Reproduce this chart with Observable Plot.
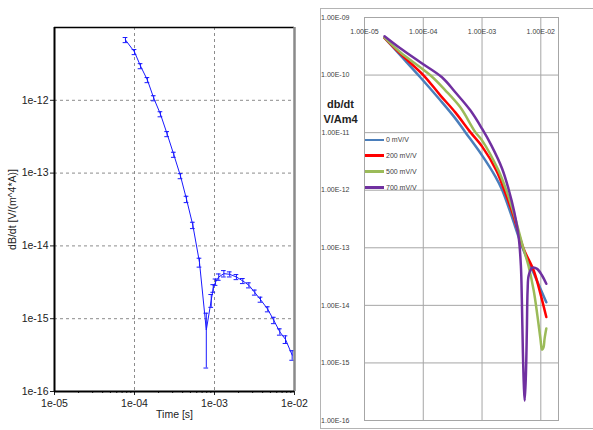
<!DOCTYPE html>
<html><head><meta charset="utf-8">
<script src="https://cdn.jsdelivr.net/npm/d3@7"></script>
<script src="https://cdn.jsdelivr.net/npm/@observablehq/plot@0.6"></script>
<style>
html,body{margin:0;padding:0;background:#fff;}
body{width:593px;height:430px;overflow:hidden;position:relative;font-family:"Liberation Sans",Arial,sans-serif;}
#left{position:absolute;left:0;top:0;}
#rightBox{position:absolute;left:320px;top:8px;width:290px;height:421px;border:1px solid #b4b4b4;box-sizing:border-box;}
#right{position:absolute;left:320px;top:0;}
#legend{position:absolute;left:365px;top:132px;font-size:7px;color:#404040;}
#legend .row{display:flex;align-items:center;height:15.8px;}
#legend .sw{width:19px;height:2.5px;margin-right:2px;}
svg{overflow:visible;}
</style></head><body>
<div id="left"></div><div id="rightBox"></div><div id="right"></div><div id="legend"></div>
<script>
// ---------- Left chart data ----------
const leftTime = [7.72e-5, 1.00e-4, 1.19e-4, 1.45e-4, 1.74e-4, 2.11e-4, 2.56e-4, 3.10e-4, 3.76e-4, 4.47e-4,
  5.36e-4, 6.49e-4, 7.9e-4, 9.1e-4, 9.64e-4, 1.03e-3, 1.13e-3, 1.31e-3, 1.55e-3, 1.88e-3,
  2.26e-3, 2.69e-3, 3.19e-3, 3.76e-3, 4.63e-3, 5.51e-3, 6.55e-3, 7.72e-3, 9.35e-3];
const leftDbdt = [6.74e-12, 4.61e-12, 2.95e-12, 1.90e-12, 1.07e-12, 6.45e-13, 3.44e-13, 1.79e-13, 9.1e-14, 4.37e-14,
  1.92e-14, 5.94e-15, 7.0e-16, 1.79e-15, 2.62e-15, 3.19e-15, 3.74e-15, 4.16e-15, 4.07e-15, 3.74e-15,
  3.30e-15, 2.88e-15, 2.29e-15, 1.83e-15, 1.35e-15, 9.5e-16, 6.6e-16, 5.19e-16, 3.16e-16];
const leftErr = [0.08, 0.08, 0.08, 0.08, 0.08, 0.08, 0.08, 0.08, 0.08, 0.1,
  0.1, 0.14, 0.7, 0.2, 0.12, 0.1, 0.1, 0.1, 0.08, 0.08,
  0.08, 0.08, 0.08, 0.08, 0.08, 0.1, 0.1, 0.12, 0.15];
const leftXTicks = [1e-5, 1e-4, 1e-3, 1e-2];
const leftXTickLabels = ["1e-05", "1e-04", "1e-03", "1e-02"];
const leftYTicks = [1e-16, 1e-15, 1e-14, 1e-13, 1e-12];
const leftYTickLabels = ["1e-16", "1e-15", "1e-14", "1e-13", "1e-12"];
const leftXLabel = "Time [s]";
const leftYLabel = "dB/dt [V/(m^4*A)]";

// ---------- Right chart data ----------
const rightSeries = ["0 mV/V", "200 mV/V", "500 mV/V", "700 mV/V"];
const rightColors = ["#4a7ebb", "#ff0000", "#9bbb59", "#7030a0"];
const t0 = [2.19e-5, 4.06e-5, 8.89e-5, 1.95e-4, 3.51e-4, 5.19e-4, 1.00e-3, 1.68e-3, 2.22e-3, 3.16e-3, 4.86e-3, 7.48e-3, 1.24e-2];
const v0 = [4.42e-10, 2.21e-10, 9.16e-11, 3.65e-11, 1.77e-11, 1.02e-11, 4.03e-12, 1.74e-12, 9.92e-13, 3.65e-13, 1.01e-13, 3.72e-14, 1.13e-14];
const t1 = [2.19e-5, 4.06e-5, 1.01e-4, 1.95e-4, 3.51e-4, 6.32e-4, 1.00e-3, 1.75e-3, 2.40e-3, 3.41e-3, 5.05e-3, 7.57e-3, 9.84e-3, 1.24e-2];
const v1 = [4.42e-10, 2.35e-10, 9.92e-11, 4.45e-11, 2.25e-11, 1.02e-11, 5.78e-12, 2.21e-12, 9.92e-13, 3.65e-13, 9.84e-14, 4.03e-14, 1.60e-14, 6.26e-15];
const t2 = [2.19e-5, 4.06e-5, 1.32e-4, 2.37e-4, 4.27e-4, 7.69e-4, 1.00e-3, 1.90e-3, 2.59e-3, 3.55e-3, 5.05e-3, 6.15e-3, 7.57e-3, 8.75e-3, 9.84e-3, 1.05e-2, 1.11e-2, 1.16e-2, 1.24e-2];
const v2 = [4.46e-10, 2.49e-10, 9.92e-11, 5.44e-11, 2.75e-11, 1.02e-11, 7.35e-12, 2.21e-12, 9.92e-13, 3.65e-13, 9.84e-14, 4.92e-14, 1.81e-14, 6.65e-15, 2.65e-15, 1.70e-15, 1.85e-15, 2.65e-15, 3.95e-15];
const t3 = [2.19e-5, 4.06e-5, 8.89e-5, 2.08e-4, 3.51e-4, 6.32e-4, 1.00e-3, 1.44e-3, 2.19e-3, 2.81e-3, 3.55e-3, 4.20e-3, 4.58e-3, 4.76e-3, 4.95e-3, 5.15e-3, 5.32e-3, 5.57e-3, 5.79e-3, 5.96e-3, 6.22e-3, 7.11e-3, 8.65e-3, 1.05e-2, 1.24e-2];
const v3 = [4.73e-10, 2.92e-10, 1.67e-10, 9.16e-11, 5.02e-11, 2.44e-11, 1.17e-11, 6.01e-12, 2.39e-12, 1.07e-12, 4.11e-13, 1.53e-13, 4.92e-14, 1.21e-14, 1.64e-15, 4.03e-16, 2.21e-16, 6.01e-16, 3.65e-15, 1.81e-14, 3.30e-14, 4.49e-14, 4.31e-14, 3.30e-14, 2.37e-14];
const rightXTicks = [1e-5, 1e-4, 1e-3, 1e-2];
const rightXTickLabels = ["1.00E-05", "1.00E-04", "1.00E-03", "1.00E-02"];
const rightYTicks = [1e-16, 1e-15, 1e-14, 1e-13, 1e-12, 1e-11, 1e-10, 1e-9];
const rightYTickLabels = ["1.00E-16", "1.00E-15", "1.00E-14", "1.00E-13", "1.00E-12", "1.00E-11", "1.00E-10", "1.00E-09"];
const rightYLabel = "db/dt\nV/Am4";

// ---------- Left chart ----------
const leftData = leftTime.map((t, i) => ({t, v: leftDbdt[i], lo: leftDbdt[i] * (1 - leftErr[i]), hi: leftDbdt[i] * (1 + leftErr[i])}));
const lxLab = new Map(leftXTicks.map((d, i) => [d, leftXTickLabels[i]]));
const lyLab = new Map(leftYTicks.map((d, i) => [d, leftYTickLabels[i]]));
const minorX = d3.scaleLog().domain([1e-5, 1e-2]).ticks();
const cap = 1.07;
const blue = "#1a1aff";
const leftPlot = Plot.plot({
  width: 320, height: 430,
  marginLeft: 54, marginRight: 26, marginTop: 27, marginBottom: 39,
  style: {fontFamily: "'Liberation Sans', Arial, sans-serif", fontSize: "10.5px", color: "#222", background: "transparent"},
  x: {type: "log", domain: [1e-5, 1e-2], axis: null},
  y: {type: "log", domain: [1e-16, 1e-11], axis: null},
  marks: [
    Plot.ruleX(leftXTicks.slice(1, 3), {stroke: "#8c8c8c", strokeDasharray: "3,3"}),
    Plot.ruleY(leftYTicks.slice(1), {stroke: "#8c8c8c", strokeDasharray: "3,3"}),
    Plot.axisX(minorX, {tickSize: 2, tickFormat: () => "", label: null}),
    Plot.axisX(leftXTicks, {tickSize: 4, tickPadding: 4, tickFormat: d => lxLab.get(d), label: null}),
    Plot.axisY(leftYTicks, {tickSize: 4, tickPadding: 2, tickFormat: d => lyLab.get(d), label: null}),
    Plot.line(leftData, {x: "t", y: "v", stroke: blue, strokeWidth: 1}),
    Plot.ruleX(leftData, {x: "t", y1: "lo", y2: "hi", stroke: blue}),
    Plot.ruleY(leftData, {y: "lo", x1: d => d.t / cap, x2: d => d.t * cap, stroke: blue}),
    Plot.ruleY(leftData, {y: "hi", x1: d => d.t / cap, x2: d => d.t * cap, stroke: blue}),
    Plot.ruleY([1e-11], {stroke: "#000", strokeWidth: 1.5}),
    Plot.ruleX([1e-2], {stroke: "#8a8a8a", strokeWidth: 2.5}),
    Plot.ruleX([1e-5], {stroke: "#000", strokeWidth: 2}),
    Plot.ruleY([1e-16], {stroke: "#000", strokeWidth: 2}),
    Plot.text([leftXLabel], {frameAnchor: "bottom", dy: 26, fontSize: 10.5, fill: "#222"}),
    Plot.text([leftYLabel], {frameAnchor: "left", dx: -42, rotate: -90, textAnchor: "middle", fontSize: 10.5, fill: "#222"})
  ]
});
document.getElementById("left").append(leftPlot);

// ---------- Right chart ----------
const series = [[t0, v0], [t1, v1], [t2, v2], [t3, v3]];
const rightData = series.flatMap(([ts, vs], k) => ts.map((t, i) => ({t, v: vs[i], s: rightSeries[k]})));
const ryLab = new Map(rightYTicks.map((d, i) => [d, rightYTickLabels[i]]));
const grid = "#a6a6a6";
const rightPlot = Plot.plot({
  width: 273, height: 430,
  marginLeft: 44, marginRight: 35, marginTop: 17, marginBottom: 10,
  style: {fontFamily: "'Liberation Sans', Arial, sans-serif", fontSize: "7px", color: "#404040", background: "transparent"},
  x: {type: "log", domain: [1e-5, 2e-2], axis: null},
  y: {type: "log", domain: [1e-16, 1e-9], axis: null},
  color: {domain: rightSeries, range: rightColors},
  marks: [
    Plot.ruleX(rightXTicks, {stroke: grid}),
    Plot.ruleY(rightYTicks, {stroke: grid}),
    Plot.frame({stroke: grid}),
    Plot.axisY(rightYTicks, {tickSize: 0, tickPadding: 15, tickFormat: d => ryLab.get(d), label: null, fontSize: 7}),
    Plot.text(rightXTicks, {x: d => d, text: (d, i) => rightXTickLabels[i], frameAnchor: "top", dy: 12, fontSize: 7, fill: "#404040"}),
    Plot.line(rightData, {x: "t", y: "v", stroke: "s", z: "s", strokeWidth: 2.5, curve: "catmull-rom"}),
    Plot.text([rightYLabel], {frameAnchor: "top-left", dx: -24, dy: 93, textAnchor: "middle", lineAnchor: "middle", lineHeight: 1.35, fontSize: 11, fontWeight: "bold", fill: "#222"})
  ]
});
document.getElementById("right").append(rightPlot);

// ---------- Legend ----------
const leg = document.getElementById("legend");
rightSeries.forEach((name, i) => {
  const row = document.createElement("div");
  row.className = "row";
  const sw = document.createElement("span");
  sw.className = "sw";
  sw.style.background = rightColors[i];
  const lab = document.createElement("span");
  lab.textContent = name;
  row.append(sw, lab);
  leg.append(row);
});
</script>
</body></html>
